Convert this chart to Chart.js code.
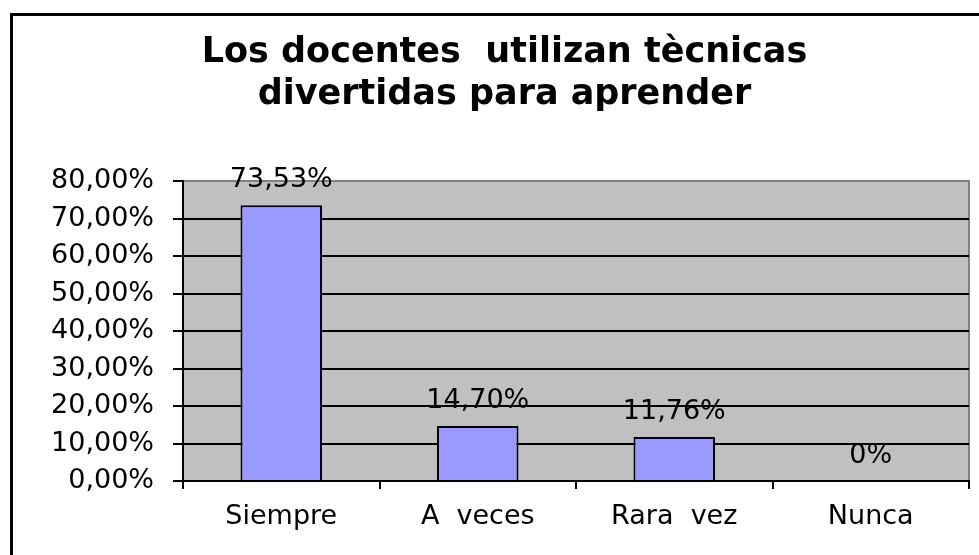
<!DOCTYPE html>
<html lang="es">
<head>
    <meta charset="UTF-8">
    <title>Los docentes utilizan tècnicas divertidas para aprender</title>
    <style>
        body {
            margin: 0;
            padding: 0;
            background-color: #ffffff;
        }
        canvas {
            display: block;
        }
    </style>
</head>
<body>
    <canvas id="chart" width="979" height="555"></canvas>

    <script src="https://cdn.jsdelivr.net/npm/chart.js"></script>
    <script>
        const titleLines = ['Los docentes  utilizan tècnicas', 'divertidas para aprender'];
        const categories = ['Siempre', 'A  veces', 'Rara  vez', 'Nunca'];
        const values = [73.53, 14.70, 11.76, 0];
        const yMin = 0;
        const yMax = 80;
        const yStep = 10;

        const FONT = 'DejaVu Sans';

        function pct(v) {
            return v.toFixed(2).replace('.', ',') + '%';
        }

        // gray plot area + outer frame (left and top sides only, the rest is cut off)
        const backdrop = {
            id: 'backdrop',
            beforeDraw(chart) {
                const ctx = chart.ctx;
                const a = chart.chartArea;
                ctx.save();
                ctx.fillStyle = '#c0c0c0';
                ctx.fillRect(a.left, a.top, a.right - a.left, a.bottom - a.top);
                ctx.strokeStyle = '#808080';
                ctx.lineWidth = 2;
                ctx.beginPath();
                ctx.moveTo(a.left, a.top);
                ctx.lineTo(a.right, a.top);
                ctx.lineTo(a.right, a.bottom);
                ctx.stroke();

                ctx.strokeStyle = '#000000';
                ctx.lineWidth = 3;
                ctx.beginPath();
                ctx.moveTo(11.5, 560);
                ctx.lineTo(11.5, 14.5);
                ctx.lineTo(985, 14.5);
                ctx.stroke();
                ctx.restore();
            }
        };

        // value labels above each bar
        const barLabels = {
            id: 'barLabels',
            afterDatasetsDraw(chart) {
                const ctx = chart.ctx;
                const meta = chart.getDatasetMeta(0);
                ctx.save();
                ctx.font = '27px "' + FONT + '"';
                ctx.fillStyle = '#000000';
                ctx.textAlign = 'center';
                ctx.textBaseline = 'alphabetic';
                meta.data.forEach((bar, i) => {
                    const v = values[i];
                    const text = v === 0 ? '0%' : pct(v);
                    ctx.fillText(text, bar.x, bar.y - 18);
                });
                ctx.restore();
            }
        };

        new Chart(document.getElementById('chart'), {
            type: 'bar',
            data: {
                labels: categories,
                datasets: [{
                    data: values,
                    backgroundColor: '#9999ff',
                    borderColor: '#000000',
                    borderWidth: 2,
                    barPercentage: 0.415,
                    categoryPercentage: 1
                }]
            },
            options: {
                responsive: false,
                animation: false,
                devicePixelRatio: 1,
                layout: {
                    padding: { left: 40, right: 10, top: 0, bottom: 0 }
                },
                plugins: {
                    legend: { display: false },
                    tooltip: { enabled: false },
                    title: {
                        display: true,
                        text: titleLines,
                        color: '#000000',
                        font: { family: FONT, size: 35, weight: 'bold', lineHeight: 1.2 },
                        padding: { top: 32, bottom: 65 }
                    }
                },
                scales: {
                    x: {
                        offset: true,
                        border: { display: true, color: '#000000', width: 2 },
                        grid: {
                            offset: true,
                            drawOnChartArea: false,
                            drawTicks: true,
                            tickLength: 8,
                            tickColor: '#000000',
                            lineWidth: 2
                        },
                        ticks: {
                            color: '#000000',
                            padding: 12,
                            maxRotation: 0,
                            font: { family: FONT, size: 27 }
                        },
                        afterFit(scale) {
                            scale.height = 74;
                        }
                    },
                    y: {
                        min: yMin,
                        max: yMax,
                        border: { display: true, color: '#000000', width: 2 },
                        grid: {
                            color: (c) => (c.tick && c.tick.value === yMax ? 'rgba(0,0,0,0)' : '#000000'),
                            tickColor: '#000000',
                            tickLength: 10,
                            lineWidth: 2
                        },
                        ticks: {
                            stepSize: yStep,
                            color: '#000000',
                            padding: 19,
                            font: { family: FONT, size: 27 },
                            callback: (v) => pct(v)
                        },
                        afterFit(scale) {
                            scale.width = 143;
                        }
                    }
                }
            },
            plugins: [backdrop, barLabels]
        });
    </script>
</body>
</html>
